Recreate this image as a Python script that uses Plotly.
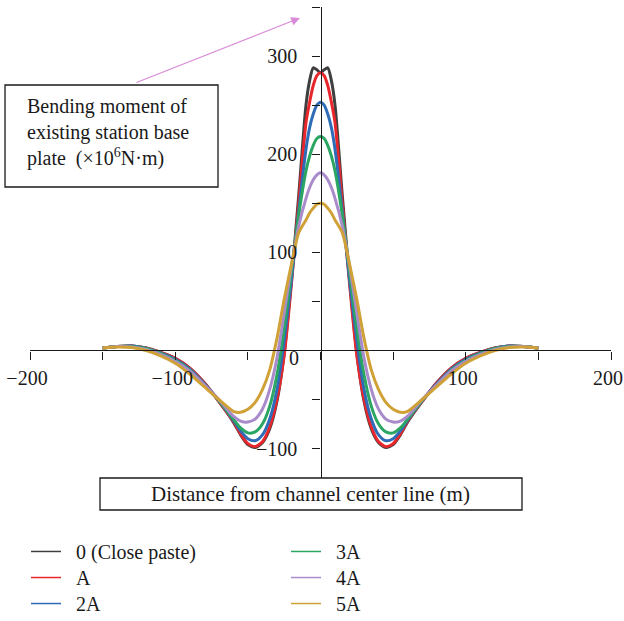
import plotly.graph_objects as go

# Distance from channel center line (m)
distance = [-150, -140, -130, -120, -110, -100, -90, -80, -70, -60, -55, -50, -45, -40,
            -35, -30, -25, -20, -15, -10, -7.5, -5, -2.5, 0,
            2.5, 5, 7.5, 10, 15, 20, 25, 30, 35, 40, 45, 50, 55, 60,
            70, 80, 90, 100, 110, 120, 130, 140, 150]

# Bending moment of the existing station base plate (x10^6 N·m)
m_close = [2.5, 4, 4.5, 2.5, -2, -8, -18, -33, -52, -73, -86, -96, -99, -94,
           -80, -52, -3, 72, 158, 250, 275, 288, 286, 283,
           286, 288, 275, 250, 158, 72, -3, -52, -80, -94, -99, -96, -86, -73,
           -52, -33, -18, -8, -2, 2.5, 4.5, 4, 2.5]
m_a = [2.5, 4, 4.5, 2.5, -2, -8, -18, -33, -52, -72, -85, -95, -98, -93,
       -78, -50, -5, 68, 150, 232, 253, 270, 280, 283,
       280, 270, 253, 232, 150, 68, -5, -50, -78, -93, -98, -95, -85, -72,
       -52, -33, -18, -8, -2, 2.5, 4.5, 4, 2.5]
m_2a = [2.5, 4, 4.5, 2, -2.5, -9, -19, -34, -51, -71, -82, -90, -92, -86,
        -70, -40, 10, 72, 142, 205, 227, 241, 250, 253,
        250, 241, 227, 205, 142, 72, 10, -40, -70, -86, -92, -90, -82, -71,
        -51, -34, -19, -9, -2.5, 2, 4.5, 4, 2.5]
m_3a = [2.5, 4, 4, 2, -3, -10, -20, -35, -51, -70, -79, -84, -83, -75,
        -57, -25, 22, 80, 138, 183, 198, 209, 216, 218,
        216, 209, 198, 183, 138, 80, 22, -25, -57, -75, -83, -84, -79, -70,
        -51, -35, -20, -10, -3, 2, 4, 4, 2.5]
m_4a = [2.5, 4, 3.5, 1, -4, -11, -21, -35, -50, -67, -72, -73, -70, -60,
        -40, -8, 38, 86, 127, 155, 166, 174, 179, 181,
        179, 174, 166, 155, 127, 86, 38, -8, -40, -60, -70, -73, -72, -67,
        -50, -35, -21, -11, -4, 1, 3.5, 4, 2.5]
m_5a = [2.5, 3.5, 3, 0, -5.5, -13, -24, -37, -50, -62, -63, -60, -53, -40,
        -20, 12, 52, 88, 120, 133, 140, 145, 149, 150,
        149, 145, 140, 133, 120, 88, 52, 12, -20, -40, -53, -60, -63, -62,
        -50, -37, -24, -13, -5.5, 0, 3, 3.5, 2.5]

series_names = ["0 (Close paste)", "A", "2A", "3A", "4A", "5A"]
series_values = [m_close, m_a, m_2a, m_3a, m_4a, m_5a]
series_colors = ["#3f3f3f", "#e8262b", "#2f6cb8", "#2aa562", "#a98bcb", "#cfa136"]

x_ticks = [-200, -150, -100, -50, 0, 50, 100, 150, 200]
x_ticktext = ["\u2212200", "", "\u2212100", "", "", "", "100", "", "200"]
y_ticks = [-100, -50, 0, 50, 100, 150, 200, 250, 300, 350]
y_ticktext = ["\u2212100", "", "", "", "100", "", "200", "", "300", ""]

FONT = "Liberation Serif"
FSIZE = 20
X_RANGE = [-200, 200]
Y_RANGE = [-130, 350]

fig = go.Figure()

for name, vals, col in zip(series_names, series_values, series_colors):
    fig.add_trace(go.Scatter(
        x=distance, y=vals, mode="lines", name=name,
        line=dict(color=col, width=3, shape="spline", smoothing=0.7),
        showlegend=False, hoverinfo="x+y+name",
    ))

# thin legend keys: one legend box per entry, laid out in two columns of three
legend_ids = ["legend", "legend2", "legend3", "legend4", "legend5", "legend6"]
for name, col, lid in zip(series_names, series_colors, legend_ids):
    fig.add_trace(go.Scatter(
        x=[None], y=[None], mode="lines", name="\u00a0\u00a0" + name,
        line=dict(color=col, width=1.5), showlegend=True, legend=lid,
    ))

legend_font = dict(family=FONT, size=FSIZE, color="#1a1a1a")
col_x = [-0.0069, 0.4406]
row_y = [-0.1146, -0.1699, -0.2251]
legend_layout = {}
for k, lid in enumerate(legend_ids):
    legend_layout[lid] = dict(
        x=col_x[k // 3], y=row_y[k % 3], xanchor="left", yanchor="top",
        font=legend_font, bgcolor="rgba(0,0,0,0)", itemwidth=30,
    )

# axes crossing at the origin
x_pos = (0 - Y_RANGE[0]) / (Y_RANGE[1] - Y_RANGE[0])
y_pos = (0 - X_RANGE[0]) / (X_RANGE[1] - X_RANGE[0])

axis_font = dict(family=FONT, size=FSIZE, color="#1a1a1a")

fig.update_layout(
    width=624, height=621, autosize=False,
    margin=dict(l=30, r=13, t=7, b=143, autoexpand=False),
    paper_bgcolor="white", plot_bgcolor="white",
    font=dict(family=FONT, size=FSIZE, color="#1a1a1a"),
    xaxis=dict(
        range=X_RANGE, anchor="free", position=x_pos,
        tickmode="array", tickvals=x_ticks, ticktext=x_ticktext,
        ticks="outside", ticklen=8, tickwidth=1.3, tickcolor="#1a1a1a",
        showline=True, linecolor="#1a1a1a", linewidth=1.3,
        showgrid=False, zeroline=False, tickfont=axis_font,
        ticklabelstandoff=1, ticklabeloverflow="allow", ticklabelshift=-3,
    ),
    yaxis=dict(
        range=Y_RANGE, anchor="free", position=y_pos,
        tickmode="array", tickvals=y_ticks, ticktext=y_ticktext,
        ticks="outside", ticklen=8, tickwidth=1.3, tickcolor="#1a1a1a",
        showline=True, linecolor="#1a1a1a", linewidth=1.3,
        showgrid=False, zeroline=False, tickfont=axis_font,
        ticklabelstandoff=11, ticklabeloverflow="allow",
    ),
    **legend_layout,
)

shapes = [
    # y-axis caption frame
    dict(type="rect", xref="paper", yref="paper", x0=-0.043, x1=0.3236,
         y0=0.6178, y1=0.8344, line=dict(color="#1a1a1a", width=1.3),
         fillcolor="white", layer="above"),
    # x-axis caption frame
    dict(type="rect", xref="paper", yref="paper", x0=0.1205, x1=0.8468,
         y0=-0.0679, y1=0.0, line=dict(color="#1a1a1a", width=1.3),
         fillcolor="white", layer="above"),
]
fig.update_layout(shapes=shapes)

fig.add_annotation(
    xref="paper", yref="paper", x=-0.0086, y=0.7325,
    xanchor="left", yanchor="middle", align="left", showarrow=False,
    text="Bending moment of<br>existing station base<br>plate\u00a0 (\u00d710<sup>6</sup>N\u00b7m)",
    font=dict(family=FONT, size=FSIZE, color="#1a1a1a"),
)
fig.add_annotation(
    xref="paper", yref="paper", x=0.4836, y=-0.034,
    xanchor="center", yanchor="middle", showarrow=False,
    text="Distance from channel center line (m)",
    font=dict(family=FONT, size=21, color="#1a1a1a"),
)
# pointer from the caption to the vertical axis
fig.add_annotation(
    xref="paper", yref="paper", x=0.4647, y=0.9766,
    ax=-165, ay=65, showarrow=True, text="",
    arrowhead=2, arrowsize=1.6, arrowwidth=1.1, arrowcolor="#d98ad8",
)
# origin label
fig.add_annotation(
    x=0, y=0, xref="x", yref="y", text="0", showarrow=False,
    xshift=-27, yshift=-8, font=axis_font,
)

fig.write_html("out.html")
